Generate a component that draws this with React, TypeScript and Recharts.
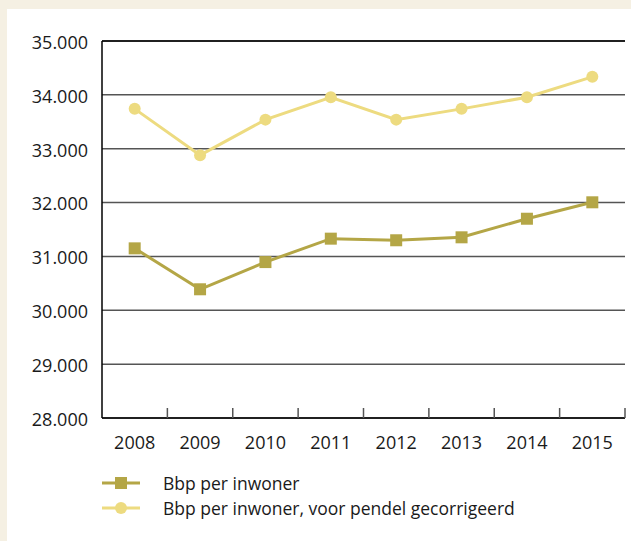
import React from "react";
import { LineChart, Line, XAxis, YAxis, CartesianGrid, ReferenceLine } from "recharts";

const years = ["2008", "2009", "2010", "2011", "2012", "2013", "2014", "2015"];
const bbpPerInwoner = [31150, 30390, 30895, 31330, 31300, 31355, 31700, 32005];
const bbpGecorrigeerd = [33740, 32880, 33540, 33955, 33540, 33740, 33955, 34335];
const yTicks = [28000, 29000, 30000, 31000, 32000, 33000, 34000, 35000];

const seriesNames = ["Bbp per inwoner", "Bbp per inwoner, voor pendel gecorrigeerd"];
const OLIVE = "#B4A646";
const YELLOW = "#EDDB80";
const BEIGE = "#F5F0E3";
const FONT = "'Open Sans', sans-serif";

const CHART_W = 624;
const CHART_H = 532;
const MARGIN = { top: 32, right: 6, left: 0, bottom: 0 };
const Y_W = 95;
const HALF_BAND = (CHART_W - MARGIN.left - MARGIN.right - Y_W) / years.length / 2;

const data = years.map((y, i) => ({
  year: y,
  a: bbpPerInwoner[i],
  b: bbpGecorrigeerd[i],
}));

const fmt = (v: number) => v.toLocaleString("de-DE");

const SquareDot = (props: any) => {
  const { cx, cy } = props;
  if (cx == null || cy == null) return null;
  return <rect x={cx - 6} y={cy - 6} width={12} height={12} fill={OLIVE} />;
};

const XTick = (props: any) => {
  const { x, y, payload } = props;
  const bx = x + HALF_BAND;
  return (
    <g>
      <line x1={bx} y1={y} x2={bx} y2={y - 10} stroke="#555" strokeWidth={1.5} />
      <text x={x} y={y + 18} dy="0.71em" textAnchor="middle" fill="#1a1a1a" fontSize={18} fontFamily={FONT}>
        {payload.value}
      </text>
    </g>
  );
};

const LegendRow = ({ color, square, label }: { color: string; square: boolean; label: string }) => (
  <div style={{ display: "flex", alignItems: "center", height: 25 }}>
    <svg width={38} height={14} style={{ display: "block" }}>
      <line x1={0} y1={7} x2={38} y2={7} stroke={color} strokeWidth={3} />
      {square ? <rect x={13} y={1} width={12} height={12} fill={color} /> : <circle cx={19} cy={7} r={6} fill={color} />}
    </svg>
    <span style={{ marginLeft: 23, fontFamily: FONT, fontSize: 17.5, color: "#1a1a1a", whiteSpace: "nowrap" }}>{label}</span>
  </div>
);

export default function App() {
  return (
    <div style={{ position: "absolute", left: 0, top: 0, width: 631, height: 541, background: BEIGE, overflow: "hidden" }}>
      <div style={{ position: "absolute", left: 7, top: 9, width: 624, height: 532, background: "#fff" }}>
        <LineChart width={CHART_W} height={CHART_H} data={data} margin={MARGIN}>
          <CartesianGrid vertical={false} stroke="#555" strokeWidth={1.5} />
          <XAxis
            dataKey="year"
            height={123}
            padding={{ left: HALF_BAND, right: HALF_BAND }}
            axisLine={{ stroke: "#000", strokeWidth: 1.5 }}
            tickLine={false}
            tickSize={0}
            tickMargin={0}
            interval={0}
            tick={<XTick />}
          />
          <YAxis
            width={Y_W}
            domain={[28000, 35000]}
            ticks={yTicks}
            interval={0}
            tickFormatter={fmt}
            axisLine={{ stroke: "#000", strokeWidth: 1.5 }}
            tickLine={false}
            tickSize={0}
            tickMargin={14}
            tick={{ fill: "#1a1a1a", fontSize: 18, fontFamily: FONT, dy: 1.5 }}
          />
          <ReferenceLine y={35000} stroke="#000" strokeWidth={1.5} />
          <Line dataKey="b" name={seriesNames[1]} stroke={YELLOW} strokeWidth={3} dot={{ r: 6, fill: YELLOW, stroke: "none" }} isAnimationActive={false} />
          <Line dataKey="a" name={seriesNames[0]} stroke={OLIVE} strokeWidth={3} dot={<SquareDot />} isAnimationActive={false} />
        </LineChart>
        <div style={{ position: "absolute", left: 95, top: 461 }}>
          <LegendRow color={OLIVE} square label={seriesNames[0]} />
          <LegendRow color={YELLOW} square={false} label={seriesNames[1]} />
        </div>
      </div>
    </div>
  );
}
